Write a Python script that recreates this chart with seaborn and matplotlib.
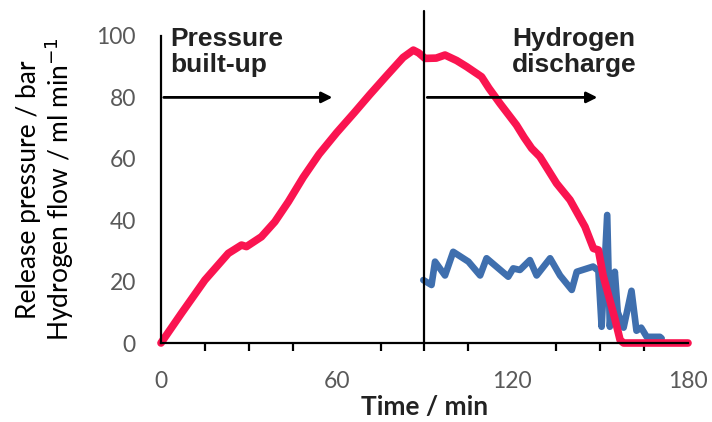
import numpy as np
import pandas as pd
import seaborn as sns
import matplotlib.pyplot as plt
from matplotlib.ticker import MultipleLocator

# release pressure (bar) vs time (min)
pressure_time = [0, 7, 15, 23, 27.5, 29.2, 34.3, 38.9, 43.5, 48.6, 54, 60, 66, 71.4, 77,
                 82.7, 86.2, 88, 90.2, 94, 97, 101, 104.4, 109.5, 112, 115.8, 121.4, 124,
                 126.6, 129.4, 135.1, 139.7, 144.8, 147.7, 149.4, 151, 153, 155, 156.8,
                 158, 170, 180]
pressure_val = [0, 9.7, 20.5, 29.2, 31.9, 31.4, 34.6, 39.5, 46, 54, 61.5, 68.5, 75, 81, 87,
                93, 95.4, 94.5, 92.7, 92.8, 93.8, 92, 90, 86.7, 83, 78, 71, 67,
                63.4, 60.7, 52, 46.6, 37.9, 30.8, 30.3, 22, 15, 8, 1,
                0, 0, 0]

# hydrogen flow (ml/min) vs time (min)
flow_time = [89.6, 92.4, 93.6, 97, 99.8, 105, 109, 111.2, 118.6, 120.3, 122.6, 126, 128.3,
             132.9, 136.3, 140.3, 142, 147.6, 149.4, 150.5, 152.4, 153.3, 155, 156, 158,
             160.7, 162.4, 164, 165.9, 170.4, 171]
flow_val = [20.5, 18.9, 26.5, 22, 29.7, 26.5, 22, 27.6, 21.6, 24.3, 23.8, 27, 22,
            27.6, 22, 17.3, 23.2, 24.9, 23.5, 5.3, 41.7, 5.3, 23.2, 10, 5,
            17, 4, 5, 2, 2, 1.5]

x_ticks = [0, 60, 120, 180]
y_ticks = [0, 20, 40, 60, 80, 100]

red = "#FA1450"
blue = "#3F6FAE"

sns.set_theme(style="white")
plt.rcParams['font.family'] = ['Lato', 'DejaVu Sans']

df_p = pd.DataFrame({'t': pressure_time, 'v': pressure_val})
df_f = pd.DataFrame({'t': flow_time, 'v': flow_val})

fig = plt.figure(figsize=(7.12, 4.22), dpi=100)
ax = fig.add_axes([0.2261, 0.1872, 0.7402, 0.7275])

sns.lineplot(data=df_f, x='t', y='v', color=blue, linewidth=4.8, ax=ax, sort=False)
sns.lineplot(data=df_p, x='t', y='v', color=red, linewidth=5.5, ax=ax, sort=False)
for ln in ax.lines:
    ln.set_clip_on(False)
    ln.set_solid_joinstyle('round')
    ln.set_solid_capstyle('round')

ax.set_xlim(0, 180)
ax.set_ylim(0, 100)
ax.set_xticks(x_ticks)
ax.set_yticks(y_ticks)
ax.xaxis.set_minor_locator(MultipleLocator(15))

for side in ['top', 'right']:
    ax.spines[side].set_visible(False)
for side in ['left', 'bottom']:
    ax.spines[side].set_color('black')
    ax.spines[side].set_linewidth(1.6)

ax.tick_params(axis='both', which='both', direction='out', length=6, width=1.6,
               color='black', labelcolor='#595959', labelsize=16.5)
ax.tick_params(axis='y', pad=12)
ax.tick_params(axis='x', pad=14)
ax.tick_params(axis='x', which='minor', bottom=True)

ax.set_xlabel('Time / min', fontsize=19, fontweight='bold', color='#222222', labelpad=2)
ax.set_ylabel('Release pressure / bar\nHydrogen flow / ml min$^{-1}$',
              fontsize=19, color='black', labelpad=15, linespacing=1.05)

# phase separator
ax.axvline(90, ymin=0, ymax=1.08, color='black', linewidth=1.6, clip_on=False)

arrow = dict(arrowstyle='-|>', color='black', lw=2, mutation_scale=16)
ax.annotate('', xy=(59.5, 80), xytext=(0, 80), arrowprops=arrow)
ax.annotate('', xy=(150, 80), xytext=(90, 80), arrowprops=arrow)

ax.text(3, 103, 'Pressure\nbuilt-up', fontsize=19, fontweight='bold', color='#222222',
        family=['Liberation Sans', 'DejaVu Sans'], va='top', ha='left', linespacing=1.1)
ax.text(120, 103, 'Hydrogen\ndischarge', fontsize=19, fontweight='bold', color='#222222',
        family=['Liberation Sans', 'DejaVu Sans'], va='top', ha='left', linespacing=1.1)

fig.savefig('out.png', dpi=100)
